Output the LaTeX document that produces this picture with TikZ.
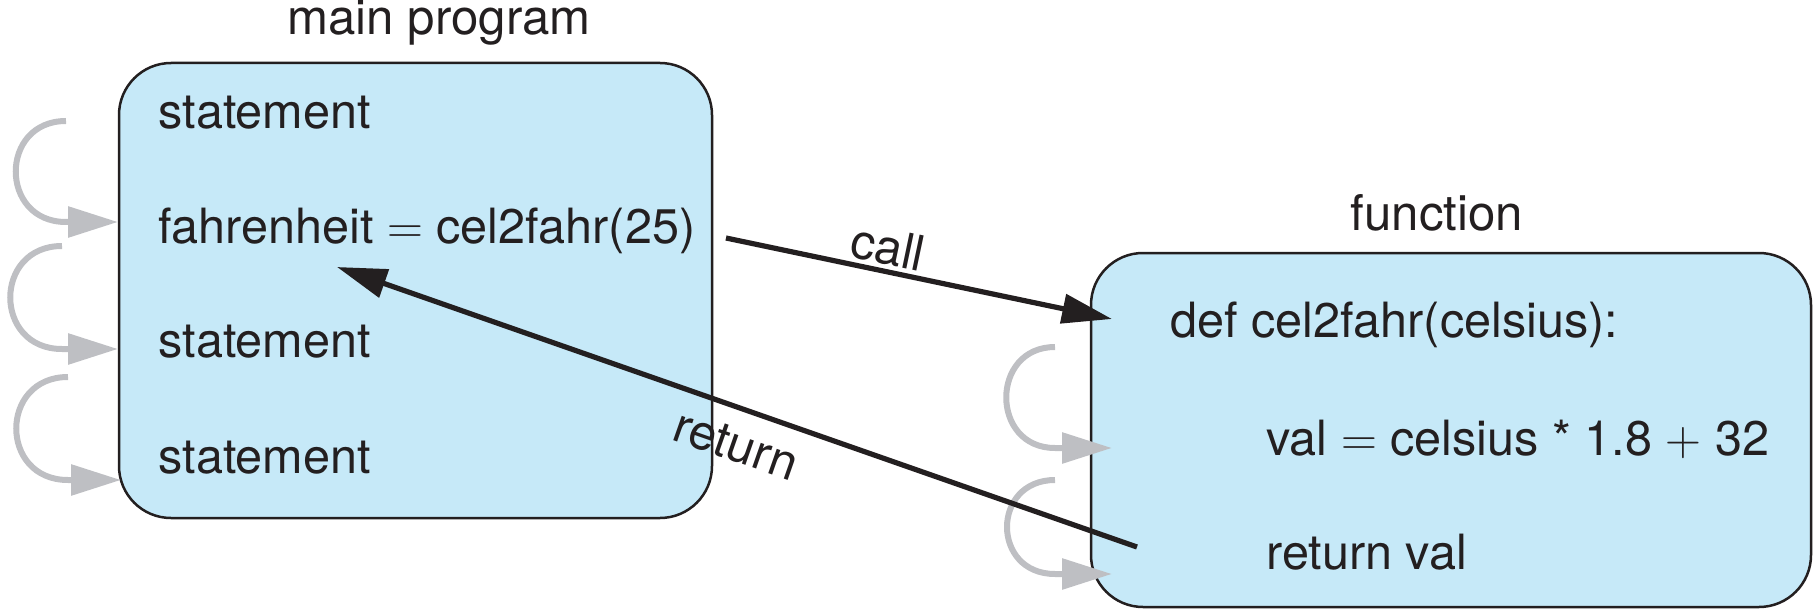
\documentclass[tikz,border=0pt]{standalone}
\usepackage{fontspec}
\setmainfont{TeX Gyre Heros}
\usetikzlibrary{arrows.meta}
\definecolor{ink}{RGB}{35,31,32}
\definecolor{panel}{RGB}{198,233,248}
\definecolor{flow}{RGB}{190,191,195}
\begin{document}
\begin{tikzpicture}[x=0.5pt,y=-0.5pt,
  txt/.style={anchor=base west, inner sep=0pt, text=ink, font=\fontsize{24.3}{28}\selectfont},
  heading/.style={anchor=base, inner sep=0pt, text=ink, font=\fontsize{24.6}{28}\selectfont},
  lbl/.style={inner sep=0pt, text=ink, font=\fontsize{24.6}{28}\selectfont},
  panelbox/.style={draw=ink, line width=1.25pt, fill=panel, rounded corners=26pt, inner sep=0pt},
  flowarrow/.style={draw=flow, line width=3pt, -{Triangle[length=25pt,width=15pt]}},
  jump/.style={draw=ink, line width=2.6pt, -{Triangle[length=25pt,width=14.5pt]}}]

\useasboundingbox (0,0) rectangle (1817,610);

% the two code panels
\node[panelbox, minimum width=296.5pt, minimum height=227.5pt] (main) at (415.5,290.5) {};
\node[panelbox, minimum width=360pt, minimum height=177pt] (func) at (1451,430) {};

% titles
\node[heading] (maintitle) at (439,35) {main program};
\node[heading] (functitle) at (1437,231) {function};

% main program lines
\node[txt] (m1) at (158,129) {statement};
\node[txt] (m2) at (158,243) {fahrenheit $=$ cel2fahr(25)};
\node[txt] (m3) at (158,357) {statement};
\node[txt] (m4) at (158,473) {statement};

% function body lines
\node[txt] (f1) at (1170,337) {def cel2fahr(celsius):};
\node[txt] (f2) at (1266,455) {val $=$ celsius * 1.8 $+$ 32};
\node[txt] (f3) at (1266,569) {return val};

% sequential flow loops, main program
\coordinate (a1) at (66,121);  \coordinate (b1) at (66,222);  \coordinate (t1) at (118,222);
\coordinate (a2) at (62,246);  \coordinate (b2) at (62,349);  \coordinate (t2) at (118,349);
\coordinate (a3) at (68,377);  \coordinate (b3) at (68,480);  \coordinate (t3) at (121,480);
\draw[flowarrow] (a1) .. controls +(-67,0) and +(-67,0) .. (b1) -- (t1);
\draw[flowarrow] (a2) .. controls +(-69,0) and +(-69,0) .. (b2) -- (t2);
\draw[flowarrow] (a3) .. controls +(-69,0) and +(-69,0) .. (b3) -- (t3);

% sequential flow loops, function body
\coordinate (a4) at (1055,347); \coordinate (b4) at (1055,448); \coordinate (t4) at (1112,448);
\coordinate (a5) at (1055,480); \coordinate (b5) at (1055,574); \coordinate (t5) at (1112,574);
\draw[flowarrow] (a4) .. controls +(-65,0) and +(-65,0) .. (b4) -- (t4);
\draw[flowarrow] (a5) .. controls +(-64,0) and +(-64,0) .. (b5) -- (t5);

% call and return jumps
\coordinate (callfrom) at (726,238);
\coordinate (callto) at (1112,319);
\coordinate (retfrom) at (1137,547);
\coordinate (retto) at (337,267);
\draw[jump] (callfrom) -- (callto);
\draw[jump] (retfrom) -- (retto);

\node[lbl, rotate=-11.85] (calllbl) at (888,247) {call};
\node[lbl, rotate=-19.3] (retlbl) at (736,445) {return};
\end{tikzpicture}
\end{document}
